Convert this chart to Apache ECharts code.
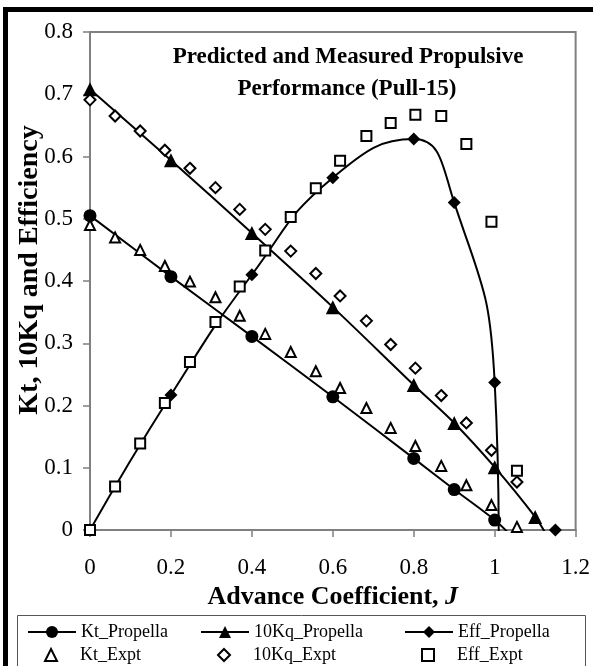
<!DOCTYPE html>
<html><head><meta charset="utf-8">
<script src="https://cdn.jsdelivr.net/npm/echarts@6/dist/echarts.min.js"></script>
<style>html,body{margin:0;padding:0;background:#fff}#c{width:593px;height:666px}</style>
</head><body><div id="c"></div>
<script>
// ---- data ----
const jPred = [0, 0.2, 0.4, 0.6, 0.8, 0.9, 1.0];
const ktPred = [0.505, 0.407, 0.311, 0.214, 0.115, 0.065, 0.016];
const ktPredExit = [1.045, -0.012];
const jPredKq = [0, 0.2, 0.4, 0.6, 0.8, 0.9, 1.0, 1.1];
const kqPred = [0.708, 0.594, 0.477, 0.358, 0.233, 0.172, 0.101, 0.021];
const kqPredExit = [1.13, -0.01];
const effPred = [0, 0.217, 0.410, 0.566, 0.628, 0.526, 0.237];
const effPredExit = [1.01, -0.015];
const effPredLast = [1.15, 0];
const jExp = [0, 0.062, 0.124, 0.185, 0.247, 0.31, 0.37, 0.433, 0.496, 0.558, 0.618, 0.683, 0.743, 0.804, 0.868, 0.93, 0.992, 1.055];
const ktExp = [0.49, 0.47, 0.45, 0.424, 0.399, 0.374, 0.344, 0.315, 0.286, 0.255, 0.228, 0.196, 0.164, 0.135, 0.103, 0.072, 0.040, 0.005];
const kqExp = [0.691, 0.665, 0.641, 0.610, 0.581, 0.550, 0.515, 0.483, 0.448, 0.412, 0.376, 0.336, 0.298, 0.260, 0.216, 0.172, 0.128, 0.077];
const effExp = [0, 0.070, 0.139, 0.204, 0.270, 0.334, 0.391, 0.449, 0.503, 0.549, 0.593, 0.633, 0.654, 0.667, 0.665, 0.620, 0.495, 0.095];
const seriesNames = ['Kt_Propella', '10Kq_Propella', 'Eff_Propella', 'Kt_Expt', '10Kq_Expt', 'Eff_Expt'];
const titleLines = ['Predicted and Measured Propulsive', 'Performance (Pull-15)'];
const yName = 'Kt, 10Kq and Efficiency';

// ---- chart ----
const FONT = '"Liberation Serif", "Times New Roman", serif';
const GRAY = '#808080';
const pairs = (xs, ys) => xs.map((x, i) => [x, ys[i]]);

function predLine(name, symbol, size, data, smooth) {
  return {
    name, type: 'line', smooth, symbol, symbolSize: size,
    data, clip: true, z: 3,
    itemStyle: { color: '#000' }, lineStyle: { color: '#000', width: 2 },
    emphasis: { disabled: true }
  };
}
function expPoints(name, symbol, size, data) {
  return {
    name, type: 'line', symbol, symbolSize: size, data, z: 4, showSymbol: true,
    lineStyle: { width: 0, opacity: 0 },
    itemStyle: { color: '#fff', borderColor: '#000', borderWidth: 2 },
    emphasis: { disabled: true }
  };
}

const series = [
  predLine(seriesNames[0], 'circle', 13,
    pairs(jPred, ktPred).concat([{ value: ktPredExit, symbol: 'none' }]), 0.3),
  predLine(seriesNames[1], 'triangle', 14,
    pairs(jPredKq, kqPred).concat([{ value: kqPredExit, symbol: 'none' }]), 0.3),
  predLine(seriesNames[2], 'diamond', 13,
    pairs(jPred, effPred).concat([{ value: effPredExit, symbol: 'none' }, [1.1, '-'], effPredLast]), 0.5),
  expPoints(seriesNames[3], 'triangle', 10, pairs(jExp, ktExp)),
  expPoints(seriesNames[4], 'diamond', 11, pairs(jExp, kqExp)),
  expPoints(seriesNames[5], 'rect', 10, pairs(jExp, effExp))
];

const legendPos = [[27, 623], [200, 623], [404, 623], [27, 646], [200, 646], [404, 646]];
const legends = seriesNames.map((n, i) => ({
  data: [n], left: legendPos[i][0], top: legendPos[i][1], padding: 0,
  itemWidth: 48, itemHeight: 15, selectedMode: false,
  textStyle: { fontFamily: FONT, fontSize: 18, color: '#000' }
}));

const chart = echarts.init(document.getElementById('c'), null, { renderer: 'canvas' });
chart.setOption({
  animation: false,
  backgroundColor: '#fff',
  grid: { left: 90, right: 16, top: 32, bottom: 136, show: true, borderColor: GRAY, borderWidth: 2, containLabel: false },
  xAxis: {
    type: 'value', min: 0, max: 1.2, interval: 0.2,
    name: 'Advance Coefficient, {i|J}', nameLocation: 'middle', nameGap: 53,
    nameTextStyle: { fontFamily: FONT, fontSize: 26, fontWeight: 'bold', color: '#000',
      rich: { i: { fontFamily: FONT, fontSize: 26, fontWeight: 'bold', fontStyle: 'italic', color: '#000' } } },
    axisLine: { show: true, onZero: false, lineStyle: { color: GRAY, width: 2 } },
    axisTick: { show: true, inside: false, length: 7, lineStyle: { color: GRAY, width: 1.5 } },
    axisLabel: { fontFamily: FONT, fontSize: 23, color: '#000', margin: 26 },
    splitLine: { show: false }
  },
  yAxis: {
    type: 'value', min: 0, max: 0.8, interval: 0.1,
    axisLine: { show: true, onZero: false, lineStyle: { color: GRAY, width: 2 } },
    axisTick: { show: true, inside: false, length: 7, lineStyle: { color: GRAY, width: 1.5 } },
    axisLabel: { fontFamily: FONT, fontSize: 23, color: '#000', margin: 17,
      formatter: v => (v === 0 ? '0' : v.toFixed(1)) },
    splitLine: { show: false }
  },
  legend: legends,
  graphic: [
    { type: 'rect', silent: true, z: 100, shape: { x: 5.5, y: 9.5, width: 700, height: 700 },
      style: { fill: 'none', stroke: '#000', lineWidth: 5 } },
    { type: 'rect', silent: true, z: 1, shape: { x: 17.5, y: 615.5, width: 568, height: 70 },
      style: { fill: 'none', stroke: '#555', lineWidth: 1 } },
    { type: 'text', silent: true, x: 348, y: 57, z: 10,
      style: { text: titleLines[0], font: 'bold 23px ' + FONT, fill: '#000', textAlign: 'center', textVerticalAlign: 'middle' } },
    { type: 'text', silent: true, x: 347, y: 89, z: 10,
      style: { text: titleLines[1], font: 'bold 23px ' + FONT, fill: '#000', textAlign: 'center', textVerticalAlign: 'middle' } },
    { type: 'text', silent: true, x: 30, y: 270, rotation: Math.PI / 2, z: 10,
      style: { text: yName, font: 'bold 28px ' + FONT, fill: '#000', textAlign: 'center', textVerticalAlign: 'middle' } }
  ],
  series
});
</script>
</body></html>
